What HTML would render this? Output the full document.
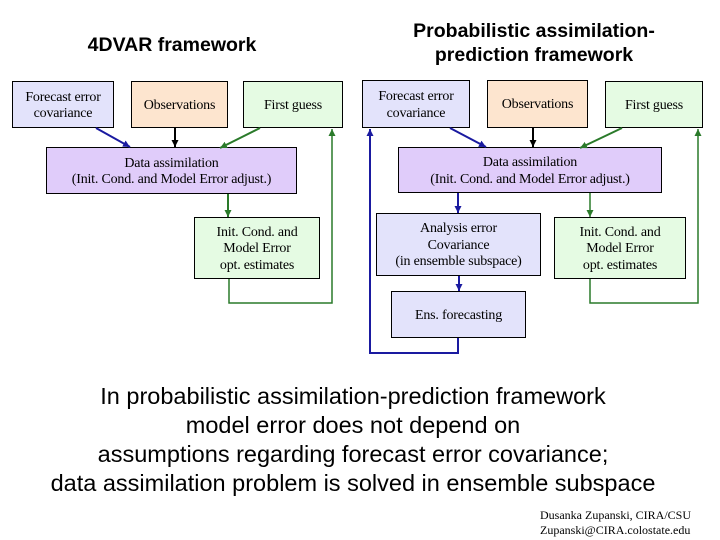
<!DOCTYPE html>
<html><head><style>
body{margin:0;width:720px;height:540px;background:#fff;position:relative;overflow:hidden;font-family:"Liberation Serif",serif}
.b{position:absolute;border:1px solid #000;box-sizing:border-box;display:flex;align-items:center;justify-content:center;text-align:center;font-size:14px;line-height:16.5px;color:#000;letter-spacing:-0.2px;padding-top:3px}
.bl{background:#e3e3fb}.or{background:#fde5cf}.gr{background:#e5fbe3}.pu{background:#e0ccfa}
.t{position:absolute;font-family:"Liberation Sans",sans-serif;font-weight:bold;font-size:19.5px;text-align:center;line-height:24px}
.m{position:absolute;left:-7px;width:720px;top:382px;text-align:center;font-family:"Liberation Sans",sans-serif;font-size:23.5px;line-height:29px}
.s{position:absolute;left:540px;top:508px;font-size:12px;line-height:15px}
</style></head><body>
<div class="t" style="left:40px;top:33px;width:264px">4DVAR framework</div>
<div class="t" style="left:374px;top:19px;width:320px">Probabilistic assimilation-<br>prediction framework</div>

<div class="b bl" style="left:12px;top:81px;width:102px;height:47px">Forecast error<br>covariance</div>
<div class="b or" style="left:131px;top:81px;width:97px;height:47px">Observations</div>
<div class="b gr" style="left:243px;top:81px;width:100px;height:47px">First guess</div>
<div class="b pu" style="left:46px;top:147px;width:251px;height:47px">Data assimilation<br>(Init. Cond. and Model Error adjust.)</div>
<div class="b gr" style="left:194px;top:217px;width:126px;height:62px">Init. Cond. and<br>Model Error<br>opt. estimates</div>

<div class="b bl" style="left:362px;top:80px;width:108px;height:48px">Forecast error<br>covariance</div>
<div class="b or" style="left:487px;top:80px;width:101px;height:48px">Observations</div>
<div class="b gr" style="left:605px;top:81px;width:98px;height:47px">First guess</div>
<div class="b pu" style="left:398px;top:147px;width:264px;height:46px">Data assimilation<br>(Init. Cond. and Model Error adjust.)</div>
<div class="b bl" style="left:376px;top:213px;width:165px;height:63px">Analysis error<br>Covariance<br>(in ensemble subspace)</div>
<div class="b gr" style="left:554px;top:217px;width:132px;height:62px">Init. Cond. and<br>Model Error<br>opt. estimates</div>
<div class="b bl" style="left:391px;top:291px;width:135px;height:47px">Ens. forecasting</div>

<svg width="720" height="540" style="position:absolute;left:0;top:0">
<defs>
<marker id="ab" markerUnits="userSpaceOnUse" markerWidth="8" markerHeight="8" refX="7" refY="4" orient="auto"><path d="M0,0.5L7,4L0,7.5z" fill="#1a1aa0"/></marker>
<marker id="ak" markerUnits="userSpaceOnUse" markerWidth="8" markerHeight="8" refX="7" refY="4" orient="auto"><path d="M0,0.5L7,4L0,7.5z" fill="#000"/></marker>
<marker id="ag" markerUnits="userSpaceOnUse" markerWidth="8" markerHeight="8" refX="7" refY="4" orient="auto"><path d="M0,0.5L7,4L0,7.5z" fill="#2a7a2a"/></marker>
</defs>
<g fill="none" stroke-width="2">
<line x1="96" y1="128" x2="130" y2="147" stroke="#1a1aa0" marker-end="url(#ab)"/>
<line x1="175" y1="128" x2="175" y2="147" stroke="#000" marker-end="url(#ak)"/>
<line x1="260" y1="128" x2="220" y2="148" stroke="#2a7a2a" marker-end="url(#ag)"/>
<line x1="228" y1="194" x2="228" y2="217" stroke="#2a7a2a" marker-end="url(#ag)"/>
<polyline points="229,279 229,303 332,303 332,129" stroke="#2a7a2a" marker-end="url(#ag)" stroke-width="1.5"/>
<line x1="450" y1="128" x2="486" y2="147" stroke="#1a1aa0" marker-end="url(#ab)"/>
<line x1="533" y1="128" x2="533" y2="147" stroke="#000" marker-end="url(#ak)"/>
<line x1="622" y1="128" x2="580" y2="148" stroke="#2a7a2a" marker-end="url(#ag)"/>
<line x1="458" y1="193" x2="458" y2="213" stroke="#1a1aa0" marker-end="url(#ab)"/>
<line x1="590" y1="193" x2="590" y2="217" stroke="#2a7a2a" marker-end="url(#ag)" stroke-width="1.5"/>
<line x1="459" y1="276" x2="459" y2="291" stroke="#1a1aa0" marker-end="url(#ab)"/>
<polyline points="458,338 458,353 370,353 370,129" stroke="#1a1aa0" marker-end="url(#ab)"/>
<polyline points="590,279 590,303 698,303 698,129" stroke="#2a7a2a" marker-end="url(#ag)" stroke-width="1.5"/>
</g></svg>

<div class="m">In probabilistic assimilation-prediction framework<br>model error does not depend on<br>assumptions regarding forecast error covariance;<br>data assimilation problem is solved in ensemble subspace</div>
<div class="s">Dusanka Zupanski, CIRA/CSU<br>Zupanski@CIRA.colostate.edu</div>
</body></html>
